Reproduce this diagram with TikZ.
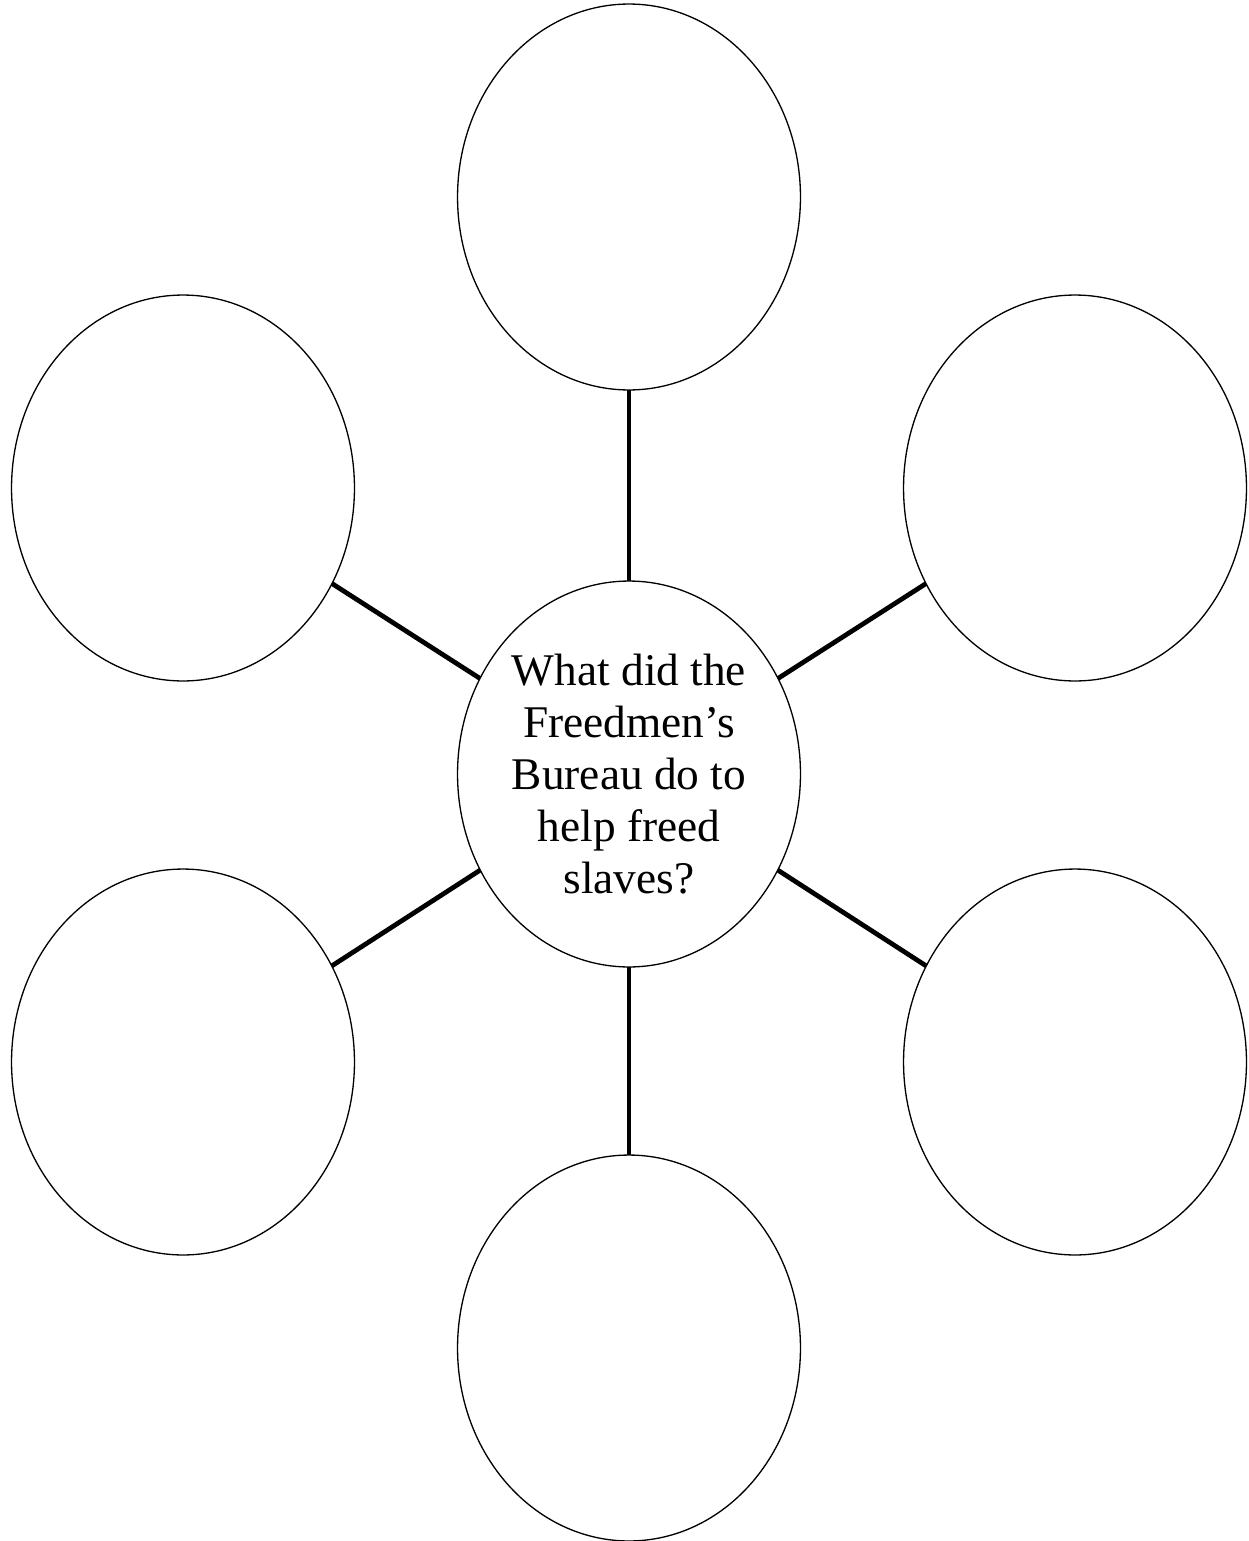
\documentclass[tikz,border=0pt]{standalone}
\usepackage{fontspec}
\setmainfont{Liberation Serif}
\usepackage{xcolor}
\usepackage{tikz}
\usetikzlibrary{shapes.geometric}

\begin{document}
\begin{tikzpicture}[x=0.02cm, y=-0.02cm,
    bubble/.style={draw, ellipse, line width=0.75pt, inner sep=0pt, outer sep=0pt,
        minimum width=6.86cm, minimum height=7.72cm},
    spoke/.style={line width=2.7pt}]
\useasboundingbox (0,0) rectangle (1248,1541);

\node[bubble, align=center, font=\fontsize{25.8}{29.6}\selectfont] (question) at (629,774)
    {What did the\\Freedmen’s\\Bureau do to\\help freed\\slaves?};

\node[bubble] (idea_top) at (629,197) {};
\node[bubble] (idea_upleft) at (183,488) {};
\node[bubble] (idea_upright) at (1075,488) {};
\node[bubble] (idea_lowleft) at (183,1062) {};
\node[bubble] (idea_lowright) at (1075,1062) {};
\node[bubble] (idea_bottom) at (629,1348) {};

\draw[spoke] (question) -- (idea_top);
\draw[spoke] (question) -- (idea_upleft);
\draw[spoke] (question) -- (idea_upright);
\draw[spoke] (question) -- (idea_lowleft);
\draw[spoke] (question) -- (idea_lowright);
\draw[spoke] (question) -- (idea_bottom);

\end{tikzpicture}
\end{document}
